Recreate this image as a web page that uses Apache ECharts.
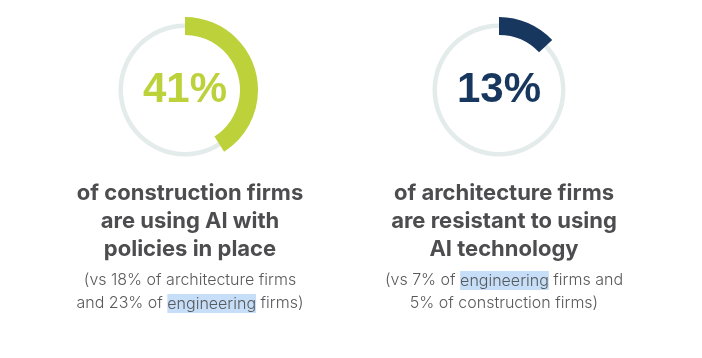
<!DOCTYPE html>
<html><head><meta charset="utf-8">
<script src="https://cdn.jsdelivr.net/npm/echarts@6/dist/echarts.min.js"></script>
<style>html,body{margin:0;padding:0;background:#fff}#c{width:702px;height:358px}</style>
</head><body><div id="c"></div>
<script>
const groups = ['construction', 'architecture'];
const values = [41, 13];
const colors = ['#BDD13B', '#17375E'];
const headlines = [
  'of construction firms\nare using AI with\npolicies in place',
  'of architecture firms\nare resistant to using\nAI technology'
];
const notes = [
  '(vs 18% of architecture firms\nand 23% of {hl|engineering} firms)',
  '(vs 7% of {hl|engineering} firms and\n5% of construction firms)'
];

const centers = [[185, 90], [499, 90]];
const chart = echarts.init(document.getElementById('c'));
const series = [];
const titles = [];
values.forEach((v, i) => {
  series.push({
    type: 'pie', silent: true, center: centers[i], radius: [62, 66.5],
    label: {show: false}, labelLine: {show: false},
    itemStyle: {color: '#E4EBEB'}, data: [{value: 100, name: groups[i] + '-bg'}]
  });
  series.push({
    type: 'pie', silent: true, center: centers[i], radius: [55, 73], startAngle: 90,
    clockwise: true, labelLine: {show: false},
    data: [
      {value: v, name: groups[i], itemStyle: {color: colors[i]},
       label: {show: true, position: 'center', formatter: v + '%', color: colors[i],
               fontFamily: 'Liberation Sans', fontWeight: 'bold', fontSize: 42}},
      {value: 100 - v, name: groups[i] + '-rest', itemStyle: {color: 'rgba(0,0,0,0)'}, label: {show: false}}
    ]
  });
  titles.push({
    text: headlines[i], left: centers[i][0], top: 174, textAlign: 'center',
    textStyle: {fontFamily: 'Inter', fontWeight: 'bold', fontSize: 22, lineHeight: 28, color: '#4D4D4F'}
  });
  titles.push({
    text: notes[i], left: centers[i][0], top: 264, textAlign: 'center',
    textStyle: {fontFamily: 'Inter', fontWeight: 300, fontSize: 16, lineHeight: 23, color: '#58595B',
      rich: {hl: {fontFamily: 'Inter', fontWeight: 300, fontSize: 16, lineHeight: 23, color: '#58595B',
                  backgroundColor: '#C6DEF7', padding: [2, 0, 1, 0]}}}
  });
});
chart.setOption({animation: false, title: titles, series: series});
</script></body></html>
